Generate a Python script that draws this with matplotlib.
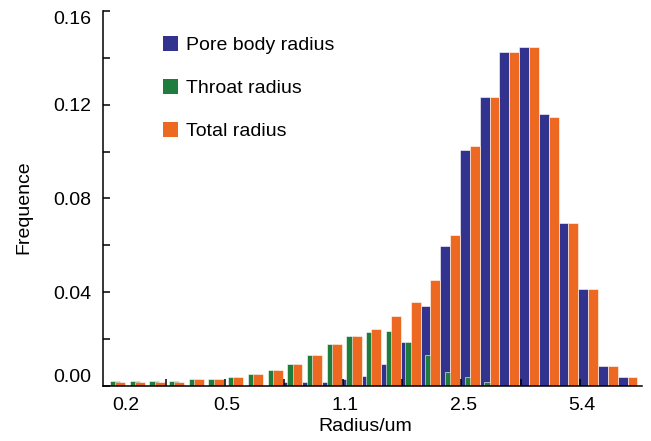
import matplotlib

matplotlib.use("Agg")

import matplotlib.pyplot as plt
import numpy as np
from matplotlib import font_manager
from matplotlib.patches import Patch

installed = {f.name for f in font_manager.fontManager.ttflist}
FONT = "Liberation Sans" if "Liberation Sans" in installed else "DejaVu Sans"
plt.rcParams["font.family"] = [FONT, "DejaVu Sans"]

BLUE = "#31338f"
GREEN = "#1e7d3c"
ORANGE = "#ed6821"

# frequency per radius bin (27 log-spaced bins)
pore_body = [0, 0, 0, 0, 0, 0, 0, 0, 0, 0.0015, 0.0018, 0.0018, 0.003, 0.0043,
             0.0095, 0.0189, 0.0341, 0.0597, 0.1007, 0.1232, 0.1424, 0.1448,
             0.1159, 0.0694, 0.0412, 0.0083, 0.0036]
throat = [0.002, 0.002, 0.002, 0.002, 0.0028, 0.0028, 0.0038, 0.0051, 0.0068,
          0.0093, 0.0132, 0.0179, 0.0213, 0.0228, 0.0236, 0.0189, 0.0132,
          0.0061, 0.0036, 0.0015, 0, 0, 0, 0, 0, 0, 0]
total = [0.0018, 0.0018, 0.0018, 0.0018, 0.0028, 0.0028, 0.0038, 0.0051, 0.0068,
         0.0093, 0.0132, 0.0179, 0.0213, 0.0243, 0.030, 0.0356, 0.0452, 0.0644,
         0.1024, 0.1232, 0.1424, 0.1448, 0.1149, 0.0694, 0.0412, 0.0083, 0.0036]
radius_labels = ["0.2", "0.5", "1.1", "2.5", "5.4"]
radius_label_bins = [0.55, 5.65, 11.65, 17.7, 23.7]

x = np.arange(len(pore_body))
width = 0.5

fig = plt.figure(figsize=(6.51, 4.41), dpi=100)
ax = fig.add_axes([0.158, 0.125, 0.828, 0.85])

bar_style = {"width": width, "edgecolor": "white", "linewidth": 0.4}
ax.bar(x - 0.25, pore_body, color=BLUE, zorder=1, **bar_style)
ax.bar(x - 0.02, throat, color=GREEN, zorder=1.1, **bar_style)
ax.bar(x + 0.25, total, color=ORANGE, zorder=1.2, **bar_style)

ax.set_xlim(-0.63, 26.73)
ax.set_ylim(0, 0.16)

for side in ("top", "right"):
    ax.spines[side].set_visible(False)
for side in ("left", "bottom"):
    ax.spines[side].set_linewidth(1.1)
    ax.spines[side].set_zorder(3)

ax.set_yticks(np.arange(0, 0.161, 0.04))
ax.set_yticks(np.arange(0.02, 0.161, 0.04), minor=True)
ax.set_yticklabels([f"{v:.2f}" for v in np.arange(0, 0.161, 0.04)])
ax.tick_params(axis="y", which="both", direction="in", length=5, width=1.1,
               labelsize=14, pad=8)
ylabels = ax.get_yticklabels()
ylabels[0].set_va("bottom")
ylabels[-1].set_va("top")

ax.set_xticks(radius_label_bins)
ax.set_xticklabels(radius_labels)
ax.set_xticks(np.arange(3, 25, 3) - 0.43, minor=True)
ax.tick_params(axis="x", which="major", length=0, labelsize=14, pad=8)
ax.tick_params(axis="x", which="minor", direction="in", length=5, width=1.1)

ax.set_xlabel("Radius/um", fontsize=14)
ax.set_ylabel("Frequence", fontsize=14)
ax.xaxis.set_label_coords(0.486, -0.085)
ax.yaxis.set_label_coords(-0.13, 0.477)

handles = [Patch(facecolor=c, edgecolor="none") for c in (BLUE, GREEN, ORANGE)]
ax.legend(handles, ["Pore body radius", "Throat radius", "Total radius"],
          loc="upper left", bbox_to_anchor=(0.111, 0.934), frameon=False,
          fontsize=14, handlelength=0.8, handleheight=0.8,
          handletextpad=0.4, labelspacing=1.28, borderpad=0, borderaxespad=0)

fig.savefig("out.png", dpi=100)
